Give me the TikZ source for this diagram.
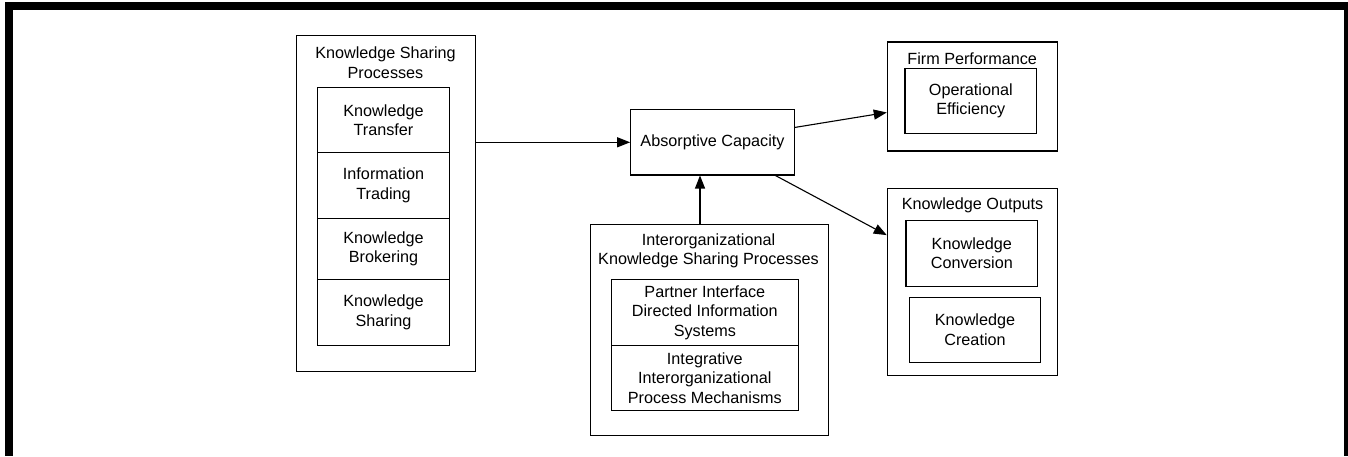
\documentclass[tikz,border=0pt]{standalone}
\usepackage{fontspec}
\setmainfont{Liberation Sans}
\usetikzlibrary{calc,arrows.meta}
\begin{document}
\begin{tikzpicture}[x=1pt,y=-1pt,
  font=\fontsize{16.2}{19.5}\selectfont,
  box/.style={draw, line width=1.1pt, inner sep=0pt, align=center},
  lbl/.style={inner sep=0pt, align=center},
  arr/.style={line width=1.1pt, -{Triangle[length=13pt,width=10pt]}}]
\useasboundingbox (0,0) rectangle (1348,456);
% frame
\fill[black] (5,2) rectangle (1348,10);
\fill[black] (5,2) rectangle (13,456);
\fill[black] (1344,2) rectangle (1348,456);
% Knowledge Sharing Processes
\node[box, minimum width=179.4pt, minimum height=336pt] (ksp) at (386,203.7) {};
\node[lbl] (ksptitle) at (385.5,62.5) {Knowledge Sharing\\Processes};
\node[box, minimum width=131.6pt, minimum height=65.4pt] (kt) at (383.5,120) {Knowledge\\Transfer};
\node[box, minimum width=131.6pt, minimum height=65.6pt] (it) at (383.5,185.5) {Information\\Trading};
\node[box, minimum width=131.6pt, minimum height=61.4pt] (kb) at (383.5,249) {Knowledge\\Brokering};
\node[box, minimum width=131.6pt, minimum height=65.6pt] (ks) at (383.5,312.5) {Knowledge\\Sharing};
% Absorptive Capacity
\node[box, minimum width=163.6pt, minimum height=65.3pt] (ac) at (712.5,142.3) {Absorptive Capacity};
% Interorganizational
\node[box, minimum width=238.3pt, minimum height=211.4pt] (io) at (709.2,330) {};
\node[lbl] (iotitle) at (708.5,250.7) {Interorganizational\\Knowledge Sharing Processes};
\node[box, minimum width=187pt, minimum height=65.6pt] (pi) at (704.8,312.5) {Partner Interface\\Directed Information\\Systems};
\node[box, minimum width=187pt, minimum height=65.4pt] (ii) at (704.8,378) {Integrative\\Interorganizational\\Process Mechanisms};
% Firm Performance
\node[box, minimum width=170.4pt, minimum height=109pt] (fp) at (972.5,96.5) {};
\node[lbl] (fptitle) at (972.2,58.3) {Firm Performance};
\node[box, minimum width=131.7pt, minimum height=65.4pt] (oe) at (970.8,101) {Operational\\Efficiency};
% Knowledge Outputs
\node[box, minimum width=170.4pt, minimum height=186.7pt] (ko) at (972.5,281.7) {};
\node[lbl] (kotitle) at (972.5,205) {Knowledge Outputs};
\node[box, minimum width=131.7pt, minimum height=65.7pt] (kc) at (971.8,253.2) {Knowledge\\Conversion};
\node[box, minimum width=131.4pt, minimum height=65.3pt] (kcr) at (975,329.7) {Knowledge\\Creation};
% connectors
\draw[arr] (ksp.east |- ac.west) -- (ac.west);
\coordinate (acfs) at ($(ac.north east)!0.276!(ac.south east)$);
\coordinate (fpin) at ($(fp.north west)!0.645!(fp.south west)$);
\draw[arr] (acfs) -- (fpin);
\coordinate (acks) at ($(ac.south west)!0.882!(ac.south east)$);
\coordinate (koin) at ($(ko.north west)!0.252!(ko.south west)$);
\draw[arr] (acks) -- (koin);
\coordinate (iotop) at ($(io.north west)!0.4616!(io.north east)$);
\draw[arr] (iotop) -- (iotop |- ac.south);
\end{tikzpicture}
\end{document}
